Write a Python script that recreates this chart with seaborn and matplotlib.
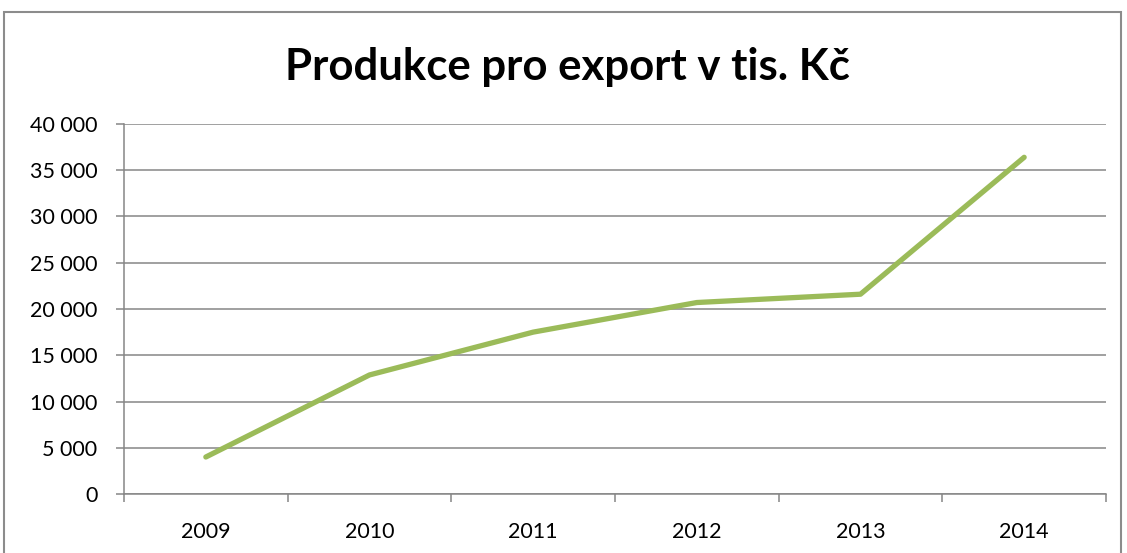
import matplotlib
matplotlib.use("Agg")
import matplotlib.pyplot as plt
import seaborn as sns
import pandas as pd
from matplotlib.patches import Rectangle
from matplotlib.ticker import FuncFormatter, FixedLocator

years = ["2009", "2010", "2011", "2012", "2013", "2014"]
values = [4000, 12870, 17500, 20700, 21600, 36400]
title = "Produkce pro export v tis. Kč"

sns.set_theme(style="white")
plt.rcParams['font.family'] = ['Lato', 'DejaVu Sans']

df = pd.DataFrame({"rok": years, "hodnota": values})

W, H = 1127, 553
fig = plt.figure(figsize=(W / 100, H / 100), dpi=100)
ax = fig.add_axes([124 / W, 1 - 494 / H, (1106 - 124) / W, (494 - 124) / H])

grid_c = "#868686"
sns.lineplot(data=df, x="rok", y="hodnota", ax=ax, color="#9BBB59",
             linewidth=3.8, solid_capstyle="round", solid_joinstyle="round")

ax.set_xlim(-0.5, len(years) - 0.5)
ax.set_ylim(0, 40000)
ax.set_yticks(range(0, 40001, 5000))
ax.yaxis.set_major_formatter(FuncFormatter(lambda v, p: f"{int(v):,}".replace(",", " ")))
ax.grid(axis="y", color=grid_c, linewidth=1.1)
ax.grid(axis="x", visible=False)
ax.set_axisbelow(True)

ax.set_xticks(range(len(years)))
ax.set_xticklabels(years)
ax.xaxis.set_minor_locator(FixedLocator([i - 0.5 for i in range(len(years) + 1)]))
ax.tick_params(axis="x", which="major", length=0, pad=20, labelsize=15.5, labelcolor="black")
ax.tick_params(axis="x", which="minor", length=6, width=1.1, color=grid_c, direction="out", bottom=True)
ax.tick_params(axis="y", which="major", length=6, width=1.1, color=grid_c, direction="out",
               left=True, pad=13, labelsize=15.5, labelcolor="black")

for s in ["top", "right"]:
    ax.spines[s].set_visible(False)
for s in ["left", "bottom"]:
    ax.spines[s].set_color(grid_c)
    ax.spines[s].set_linewidth(1.1)

ax.set_xlabel("")
ax.set_ylabel("")

fig.text(0.5 + 4 / W, 1 - 67 / H, title, ha="center", va="center",
         fontsize=31.5, fontweight="bold", color="black")

fig.patches.append(Rectangle((4 / W, -0.05), (1121 - 4) / W, 1.05 - 12 / H,
                             transform=fig.transFigure, fill=False,
                             edgecolor="#8c8c8c", linewidth=1.5))

fig.savefig("out.png", dpi=100)
